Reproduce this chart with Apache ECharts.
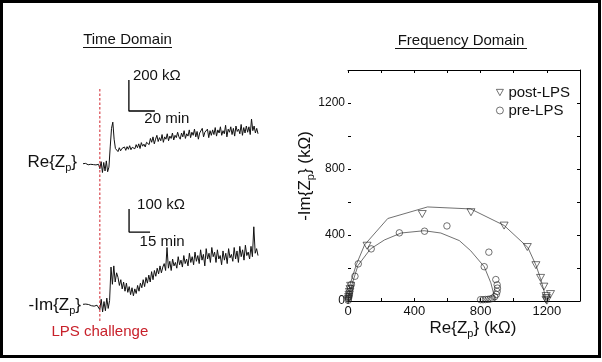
<!DOCTYPE html>
<html><head><meta charset="utf-8">
<script src="https://cdn.jsdelivr.net/npm/echarts@6/dist/echarts.min.js"></script>
<style>html,body{margin:0;padding:0;background:#fff}#c{width:602px;height:362px}</style>
</head><body><div id="c"></div><script>
const FONT = "'Liberation Sans', Arial, Helvetica, sans-serif";

// ---------- Time domain data (kΩ relative to baseline, 1 sample per minute) ----------
const reStepMin = 1;
const reTrace = [2,-3,4,0,-5,3,-2,5,-4,1,-6,3,-2,
  -30,15,-55,10,-45,20,-50,-20,
  110,230,270,160,100,
  95,80,105,85,100,90,110,88,112,95,118,92,108,120,98,125,105,130,100,138,115,128,110,140,
  150,125,165,140,175,130,160,185,145,170,150,190,140,175,160,195,150,180,165,200,155,185,170,205,175,
  160,200,175,215,165,195,180,220,170,205,185,225,175,210,160,200,190,230,175,205,195,225,170,215,185,220,
  190,235,180,220,200,240,185,215,195,250,175,225,205,240,190,230,180,245,210,225,195,255,185,235,200,245,
  205,240,190,290,215,245,200,230,195];
const imStepMin = 1;
const imTrace = [3,-2,4,-4,2,5,-3,1,-5,3,-1,2,
  -20,25,-30,15,-25,30,-15,20,
  165,90,170,100,140,
  120,85,110,70,100,60,95,55,80,45,75,40,
  70,50,85,60,95,75,110,80,120,95,
  130,100,145,110,150,125,160,135,170,140,165,
  180,150,250,160,190,150,200,170,185,160,210,175,
  195,165,215,180,200,170,225,185,210,175,230,190,
  215,180,240,195,220,170,245,200,225,185,250,210,
  230,185,240,200,215,175,235,195,225,180,245,205,
  220,190,250,200,235,185,255,210,240,195,260,215,
  230,200,255,210,340,225,245,215];
const lpsTimeMin = 13;
const reScale = {kOhm: 200, min: 20, label1: '200 kΩ', label2: '20 min'};
const imScale = {kOhm: 100, min: 15, label1: '100 kΩ', label2: '15 min'};

// ---------- Frequency domain data (Re, -Im) in kΩ ----------
const postLPS = [[0,3],[2,12],[4,24],[6,38],[9,55],[12,72],[16,92],[115,335],[448,527],[742,538],[942,457],
  [1082,327],[1134,217],[1162,140],[1182,87],[1222,42],[1196,30],[1198,18],[1195,8],[1200,2]];
const postFit = [[0,0],[12,100],[50,220],[100,340],[240,500],[480,570],[740,558],[942,458],[1085,325],
  [1135,215],[1162,135],[1182,65],[1195,5]];
const preLPS = [[1,4],[3,14],[5,26],[8,40],[11,58],[15,78],[20,100],[42,150],[62,225],[140,316],[310,413],
  [462,423],[597,455],[850,296],[822,208],[892,130],[900,98],[902,78],[900,58],[895,40],[885,26],[872,16],
  [858,12],[845,10],[830,9],[815,8],[800,8]];
const preFit = [[0,0],[10,50],[30,120],[60,215],[135,315],[220,370],[320,412],[460,426],[560,412],
  [672,366],[740,305],[822,208],[862,110],[880,40],[886,5]];
const nyqLabelTicks = [0,400,800,1200];

// anchors for scale bars (data coords of bar corner) - layout
const reBarAnchor = [35.4, 342];
const imBarAnchor = [32.9, 317];

const TRI = 'path://M0,0L10,0L5,9Z';
const chart = echarts.init(document.getElementById('c'));

const box = () => ({
  axisLine:{show:true,onZero:false,lineStyle:{color:'#000',width:1}},
  axisTick:{show:true,inside:true,length:3,lineStyle:{color:'#000',width:1}},
  splitLine:{show:false}
});

const option = {
  animation:false,
  backgroundColor:'#fff',
  textStyle:{fontFamily:FONT},
  grid:[
    {left:83, top:71, width:175, height:108.5},
    {left:83, top:194.6, width:175, height:128.8},
    {left:83, top:88, width:175, height:233},
    {left:348, top:70, width:232, height:231}
  ],
  xAxis:[
    {gridIndex:0,type:'value',min:0,max:135,show:false},
    {gridIndex:1,type:'value',min:0,max:125,show:false},
    {gridIndex:2,type:'value',min:0,max:135,show:false},
    Object.assign({gridIndex:3,type:'value',min:0,max:1400,interval:200,position:'bottom',
      axisLabel:{show:true,color:'#111',fontSize:13,margin:4,fontFamily:FONT,
        formatter:v=>nyqLabelTicks.includes(v)?String(v):''}}, box()),
    Object.assign({gridIndex:3,type:'value',min:0,max:1400,interval:200,position:'top',
      axisLabel:{show:false}}, box())
  ],
  yAxis:[
    {gridIndex:0,type:'value',min:-100,max:600,show:false},
    {gridIndex:1,type:'value',min:-80,max:480,show:false},
    {gridIndex:2,type:'value',min:0,max:1,show:false},
    {gridIndex:3,type:'value',min:0,max:1400,interval:200,position:'left',
      axisLine:{show:false},
      axisTick:{show:true,inside:true,length:3,lineStyle:{color:'#000',width:1}},
      splitLine:{show:false},
      axisLabel:{show:true,color:'#111',fontSize:12,margin:3,fontFamily:FONT,
        formatter:v=>nyqLabelTicks.includes(v)?String(v):''}},
    Object.assign({gridIndex:3,type:'value',min:0,max:1400,interval:200,position:'right',
      axisLabel:{show:false}}, box())
  ],
  legend:{
    orient:'vertical', left:491, top:80, itemWidth:7, itemHeight:7, itemGap:3,
    textStyle:{fontSize:15,color:'#111',fontFamily:FONT},
    data:[
      {name:'post-LPS', icon:TRI, itemStyle:{color:'#fff',borderColor:'#222',borderWidth:0.8}},
      {name:'pre-LPS', icon:'circle', itemStyle:{color:'#fff',borderColor:'#222',borderWidth:0.8}}
    ]
  },
  series:[
    {type:'line',xAxisIndex:0,yAxisIndex:0,showSymbol:false,silent:true,
      lineStyle:{color:'#111',width:1},data:reTrace.map((v,i)=>[i*reStepMin,v])},
    {type:'line',xAxisIndex:1,yAxisIndex:1,showSymbol:false,silent:true,
      lineStyle:{color:'#111',width:1},data:imTrace.map((v,i)=>[i*imStepMin,v])},
    {type:'line',xAxisIndex:0,yAxisIndex:0,showSymbol:false,lineStyle:{color:'#000',width:1.3},
      data:[[reBarAnchor[0],reBarAnchor[1]+reScale.kOhm],reBarAnchor,[reBarAnchor[0]+reScale.min,reBarAnchor[1]]]},
    {type:'line',xAxisIndex:1,yAxisIndex:1,showSymbol:false,lineStyle:{color:'#000',width:1.3},
      data:[[imBarAnchor[0],imBarAnchor[1]+imScale.kOhm],imBarAnchor,[imBarAnchor[0]+imScale.min,imBarAnchor[1]]]},
    {type:'line',xAxisIndex:2,yAxisIndex:2,showSymbol:false,
      lineStyle:{color:'#d0202a',width:1,type:[2.5,2]},data:[[lpsTimeMin,0],[lpsTimeMin,1]]},
    {type:'line',xAxisIndex:3,yAxisIndex:3,showSymbol:false,smooth:false,
      lineStyle:{color:'#333',width:0.7},data:postFit},
    {type:'line',xAxisIndex:3,yAxisIndex:3,showSymbol:false,smooth:false,
      lineStyle:{color:'#333',width:0.7},data:preFit},
    {name:'post-LPS',type:'scatter',xAxisIndex:3,yAxisIndex:3,symbol:TRI,symbolSize:[8,7],
      itemStyle:{color:'rgba(255,255,255,0)',borderColor:'#222',borderWidth:0.8},data:postLPS,z:5},
    {name:'pre-LPS',type:'scatter',xAxisIndex:3,yAxisIndex:3,symbol:'circle',symbolSize:6.5,
      itemStyle:{color:'rgba(255,255,255,0)',borderColor:'#222',borderWidth:0.8},data:preLPS,z:5}
  ]
};
chart.setOption(option);

function txt(text, x, y, opts) {
  return Object.assign({type:'text', x:x, y:y, silent:true,
    style:Object.assign({text:text, fill:'#111', fontSize:15, fontFamily:FONT,
      align:'left', verticalAlign:'middle'}, (opts&&opts.style)||{})}, (opts&&opts.el)||{});
}
const rich = {b:{fontSize:17,fontFamily:FONT,fill:'#111'}, s:{fontSize:11,fontFamily:FONT,fill:'#111',padding:[12,0,0,0]}};
function zp(prefix, suffix, x, y, align, rot) {
  return {type:'text', x:x, y:y, rotation:rot||0, silent:true,
    style:{text:'{b|'+prefix+'{Z}{s|p}}'+(suffix||''), rich:rich, fontSize:17, fontFamily:FONT, fill:'#111',
      align:align, verticalAlign:'middle'}};
}

const reTop = chart.convertToPixel({gridIndex:0}, [reBarAnchor[0], reBarAnchor[1]+reScale.kOhm]);
const reEnd = chart.convertToPixel({gridIndex:0}, [reBarAnchor[0]+reScale.min, reBarAnchor[1]]);
const imTop = chart.convertToPixel({gridIndex:1}, [imBarAnchor[0], imBarAnchor[1]+imScale.kOhm]);
const imEnd = chart.convertToPixel({gridIndex:1}, [imBarAnchor[0]+imScale.min, imBarAnchor[1]]);
const lpsBot = chart.convertToPixel({gridIndex:2}, [lpsTimeMin, 0]);

chart.setOption({graphic:[
  {type:'rect', shape:{x:1.5,y:1.5,width:598,height:355}, style:{fill:'none',stroke:'#000',lineWidth:3}, silent:true},
  txt('Time Domain', 127.5, 40, {style:{align:'center'}}),
  {type:'line', shape:{x1:83,y1:47.5,x2:172,y2:47.5}, style:{stroke:'#111',lineWidth:1}, silent:true},
  txt('Frequency Domain', 461, 41, {style:{align:'center'}}),
  {type:'line', shape:{x1:395,y1:48.5,x2:527,y2:48.5}, style:{stroke:'#111',lineWidth:1}, silent:true},
  txt(reScale.label1, reTop[0]+4, reTop[1]-4),
  txt(reScale.label2, reEnd[0]+12, reEnd[1]+8, {style:{align:'center'}}),
  txt(imScale.label1, imTop[0]+8, imTop[1]-4),
  txt(imScale.label2, imEnd[0]+12, imEnd[1]+10, {style:{align:'center'}}),
  txt('LPS challenge', lpsBot[0], lpsBot[1]+11, {style:{align:'center', fill:'#c8202a'}}),
  zp('Re', '', 77, 162, 'right'),
  zp('-Im', '', 81, 305, 'right'),
  zp('Re', ' (kΩ)', 473, 328, 'center'),
  zp('-Im', ' (kΩ)', 305, 176, 'center', Math.PI/2)
]});
</script></body></html>
